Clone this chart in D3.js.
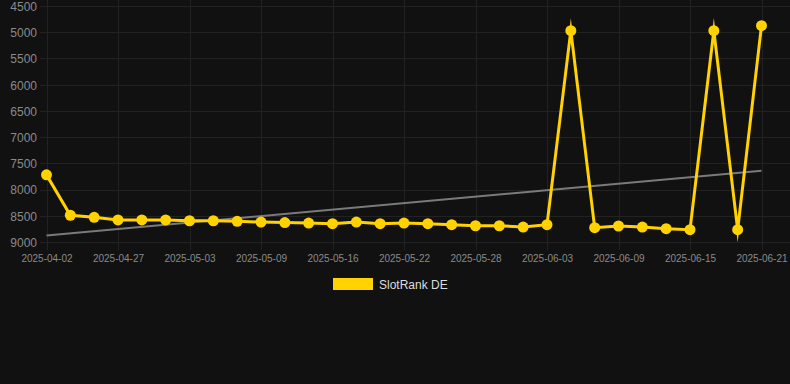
<!DOCTYPE html>
<html>
<head>
<meta charset="utf-8">
<script src="https://cdn.jsdelivr.net/npm/d3@7"></script>
<style>
  html, body { margin: 0; padding: 0; background: #111111; }
  svg { display: block; }
</style>
</head>
<body>
<svg id="chart" width="790" height="384"></svg>
<script>
const dates = [
  "2025-04-02","2025-04-23","2025-04-25","2025-04-27","2025-04-29","2025-05-01",
  "2025-05-03","2025-05-05","2025-05-07","2025-05-09","2025-05-11","2025-05-14",
  "2025-05-16","2025-05-18","2025-05-20","2025-05-22","2025-05-24","2025-05-26",
  "2025-05-28","2025-05-30","2025-06-01","2025-06-03","2025-06-05","2025-06-07",
  "2025-06-09","2025-06-11","2025-06-13","2025-06-15","2025-06-17","2025-06-19",
  "2025-06-21"
];
const rankDE = [
  7720, 8490, 8530, 8580, 8580, 8580,
  8595, 8595, 8605, 8620, 8630, 8638,
  8650, 8620, 8650, 8638, 8650, 8670,
  8690, 8690, 8715, 8670, 4970, 8728,
  8695, 8715, 8747, 8766, 4970, 8766,
  4875
];
const yTicks = [4500, 5000, 5500, 6000, 6500, 7000, 7500, 8000, 8500, 9000];
const xTickLabels = ["2025-04-02","2025-04-27","2025-05-03","2025-05-09","2025-05-16",
  "2025-05-22","2025-05-28","2025-06-03","2025-06-09","2025-06-15","2025-06-21"];
const seriesName = "SlotRank DE";

const svg = d3.select("#chart");
const W = 790;
const font = "'Liberation Sans', Arial, Helvetica, sans-serif";
const x = d3.scalePoint().domain(dates).range([46.5, 761.5]).padding(0);
const y = d3.scaleLinear().domain([4500, 9000]).range([6, 242]);

const gridColor = "#222222";
const yellow = "#FFD200";

// horizontal grid
svg.append("g").selectAll("line").data(yTicks).join("line")
  .attr("x1", 40).attr("x2", W)
  .attr("y1", d => Math.round(y(d)) + 0.5).attr("y2", d => Math.round(y(d)) + 0.5)
  .attr("stroke", gridColor).attr("stroke-width", 1);

// vertical grid
svg.append("g").selectAll("line").data(xTickLabels).join("line")
  .attr("x1", d => Math.round(x(d)) + 0.5).attr("x2", d => Math.round(x(d)) + 0.5)
  .attr("y1", 0).attr("y2", 250)
  .attr("stroke", gridColor).attr("stroke-width", 1);

// y axis labels
const yAxis = d3.axisLeft(y).tickValues(yTicks).tickSize(0).tickPadding(0).tickFormat(d => d);
const gy = svg.append("g").attr("transform", "translate(37,0.5)").call(yAxis);
gy.select(".domain").remove();
gy.selectAll("text").attr("fill", "#8a8a8a").attr("font-size", 12)
  .attr("font-family", font);

// x axis labels
const xAxis = d3.axisBottom(x).tickValues(xTickLabels).tickSize(0).tickPadding(0);
const gx = svg.append("g").attr("transform", "translate(0,255)").call(xAxis);
gx.select(".domain").remove();
gx.selectAll("text").attr("fill", "#8a8a8a").attr("font-size", 10)
  .attr("font-family", font);

// trend line (least squares)
const n = rankDE.length;
const idx = d3.range(n);
const mx = d3.mean(idx), my = d3.mean(rankDE);
const slope = d3.sum(idx, i => (i - mx) * (rankDE[i] - my)) / d3.sum(idx, i => (i - mx) ** 2);
const intercept = my - slope * mx;
svg.append("line")
  .attr("x1", x(dates[0])).attr("y1", y(intercept))
  .attr("x2", x(dates[n - 1])).attr("y2", y(intercept + slope * (n - 1)))
  .attr("stroke", "#7a7a7a").attr("stroke-width", 2);

// series line
const line = d3.line().x((d, i) => x(dates[i])).y(d => y(d));
svg.append("path").datum(rankDE)
  .attr("d", line).attr("fill", "none")
  .attr("stroke", yellow).attr("stroke-width", 3)
  .attr("stroke-linejoin", "miter").attr("stroke-miterlimit", 10);

// points
svg.append("g").selectAll("circle").data(rankDE).join("circle")
  .attr("cx", (d, i) => x(dates[i])).attr("cy", d => y(d))
  .attr("r", 5.5).attr("fill", yellow);

// legend
const lg = svg.append("g");
lg.append("rect").attr("x", 333).attr("y", 278).attr("width", 40).attr("height", 12)
  .attr("fill", yellow);
lg.append("text").attr("x", 379).attr("y", 289).text(seriesName)
  .attr("fill", "#dddddd").attr("font-size", 12)
  .attr("font-family", font);
</script>
</body>
</html>
